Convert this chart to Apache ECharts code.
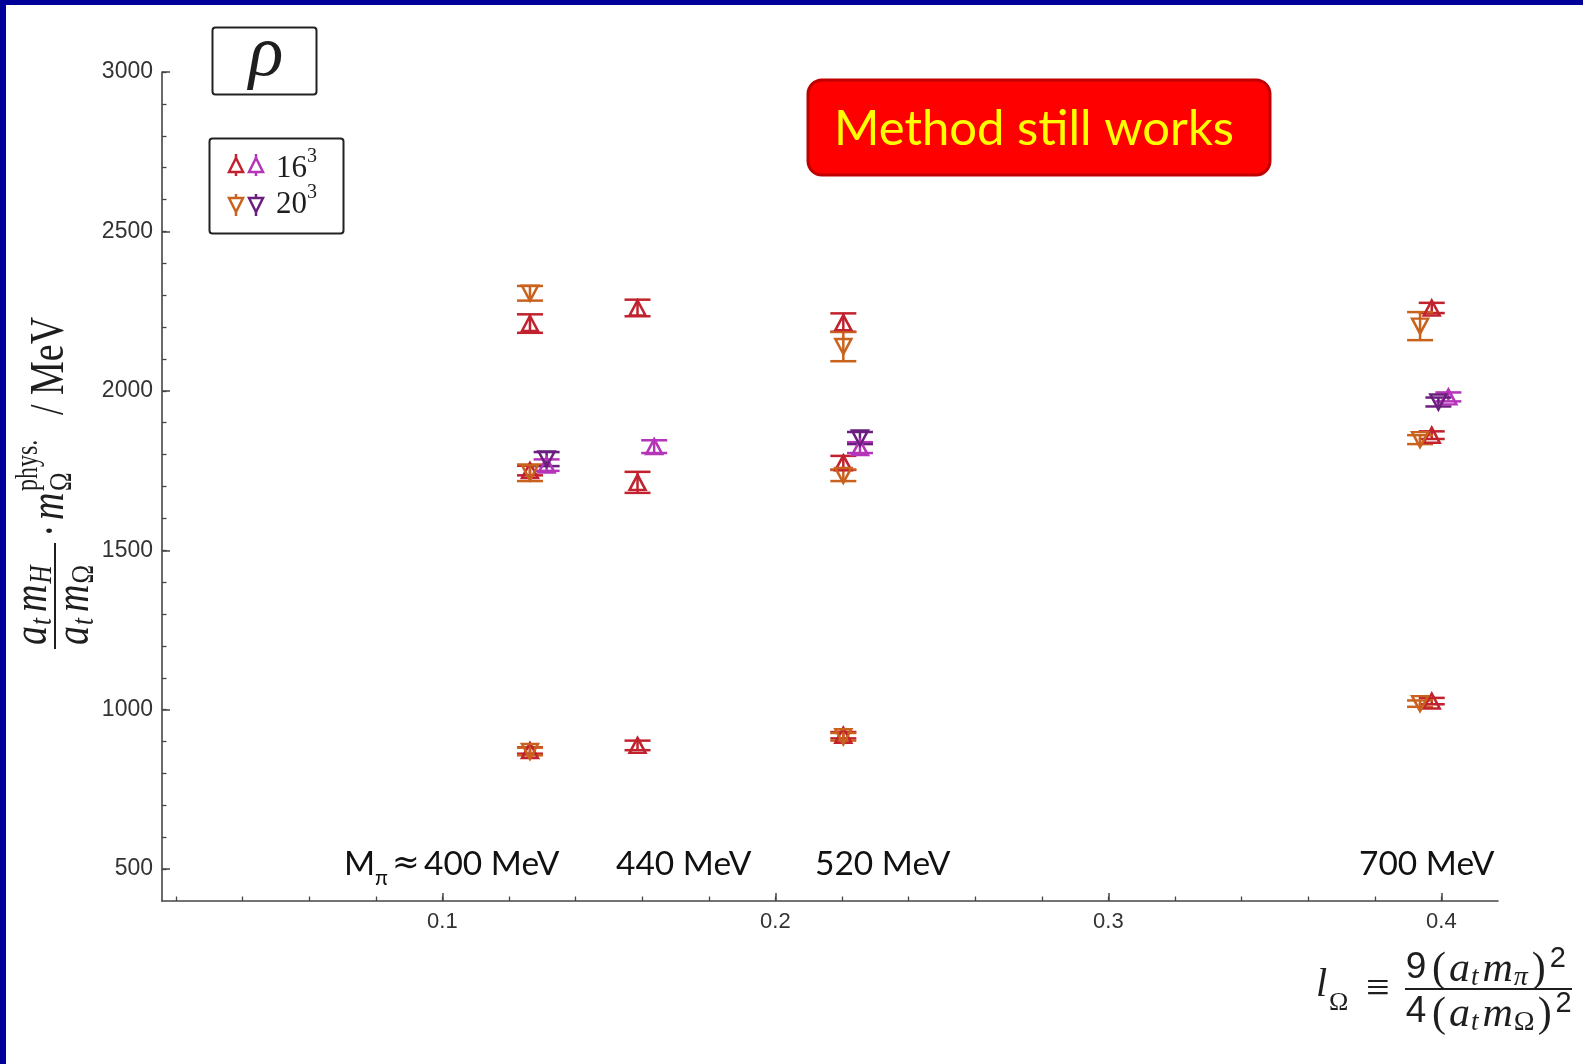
<!DOCTYPE html>
<html>
<head>
<meta charset="utf-8">
<script src="https://cdn.jsdelivr.net/npm/echarts@6/dist/echarts.min.js"></script>
<style>
html,body{margin:0;padding:0;background:#fff;}
#c{width:1583px;height:1064px;}
</style>
</head>
<body>
<div id="c"></div>
<script>
// ---------- data (x = l_Omega, y = mass in MeV, err in MeV) ----------
const rho16a = [ // 16^3, crimson up-triangles
  [0.1263, 2211, 29], [0.1263, 1750, 15], [0.1263, 872, 10],
  [0.1586, 2260, 26], [0.1586, 1713, 33], [0.1586, 888, 15],
  [0.2204, 2214, 29], [0.2204, 1774, 22], [0.2204, 920, 10],
  [0.3971, 2260, 16], [0.3971, 1861, 12], [0.3971, 1027, 10]
];
const rho16b = [ // 16^3, magenta up-triangles
  [0.1313, 1767, 18], [0.1636, 1825, 20], [0.2254, 1822, 17], [0.4021, 1981, 14]
];
const rho20a = [ // 20^3, orange down-triangles
  [0.1263, 2306, 23], [0.1263, 1743, 26], [0.1263, 869, 12],
  [0.2204, 2139, 46], [0.2204, 1735, 18], [0.2204, 915, 12],
  [0.3936, 2203, 44], [0.3936, 1847, 14], [0.3936, 1019, 10]
];
const rho20b = [ // 20^3, purple down-triangles
  [0.1313, 1786, 22], [0.2254, 1852, 19], [0.3991, 1965, 14]
];
const xMajorTicks = [0.1, 0.2, 0.3, 0.4];
const xMinorTicks = [0.02, 0.04, 0.06, 0.08, 0.1, 0.12, 0.14, 0.16, 0.18, 0.2, 0.22, 0.24, 0.26, 0.28, 0.3, 0.32, 0.34, 0.36, 0.38, 0.4];
const yMajorTicks = [500, 1000, 1500, 2000, 2500, 3000];
const yMinorTicks = [500, 600, 700, 800, 900, 1000, 1100, 1200, 1300, 1400, 1500, 1600, 1700, 1800, 1900, 2000, 2100, 2200, 2300, 2400, 2500, 2600, 2700, 2800, 2900, 3000];
const massLabels = ['440 MeV', '520 MeV', '700 MeV'];

const C_RED = '#c1222e', C_MAG = '#b535b8', C_ORA = '#c9621d', C_PUR = '#6a1f7e';

// ---------- helpers ----------
const mctx = document.createElement('canvas').getContext('2d');
function fontStr(tk) {
  return (tk.it ? 'italic ' : '') + tk.fs + 'px ' + (tk.ff || '"Liberation Serif","DejaVu Serif"');
}
function flow(x0, yMid, tokens, color) {
  let x = x0; const out = [];
  tokens.forEach(tk => {
    const font = fontStr(tk);
    mctx.font = font;
    const w = mctx.measureText(tk.t).width;
    x += (tk.pre || 0);
    out.push({type: 'text', x: x, y: yMid + (tk.dy || 0), silent: true,
      style: {text: tk.t, font: font, fill: color || '#1e1e1e', textAlign: 'left', verticalAlign: 'middle'}});
    x += w + (tk.gap || 0);
  });
  return out;
}
function place(x, y, t, fs, opts) {
  opts = opts || {};
  return {type: 'text', x: x, y: y, silent: true,
    style: {text: t, font: fontStr({t: t, fs: fs, it: opts.it, ff: opts.ff}), fill: opts.color || '#1e1e1e',
      textAlign: opts.align || 'left', verticalAlign: 'middle'}};
}
function errSeries(data, color) {
  return {
    type: 'custom', data: data, encode: {x: 0, y: 1}, silent: true,
    renderItem: function (params, api) {
      const x = api.value(0), y = api.value(1), e = api.value(2);
      const t = api.coord([x, y + e]), b = api.coord([x, y - e]);
      const hw = 13, st = {stroke: color, lineWidth: 2.5};
      return {type: 'group', children: [
        {type: 'line', shape: {x1: t[0], y1: t[1], x2: b[0], y2: b[1]}, style: st},
        {type: 'line', shape: {x1: t[0] - hw, y1: t[1], x2: t[0] + hw, y2: t[1]}, style: st},
        {type: 'line', shape: {x1: b[0] - hw, y1: b[1], x2: b[0] + hw, y2: b[1]}, style: st}
      ]};
    }
  };
}
function triSeries(data, color, down) {
  return {
    type: 'scatter', data: data, encode: {x: 0, y: 1}, silent: true,
    symbol: 'triangle', symbolSize: [16, 15], symbolRotate: down ? 180 : 0,
    itemStyle: {color: 'rgba(255,255,255,0)', borderColor: color, borderWidth: 2.5, opacity: 1}
  };
}
function legTri(cx, cy, color, down) {
  const h = 7, w = 7;
  const pts = down ? [[cx - w, cy - h], [cx + w, cy - h], [cx, cy + h]] : [[cx - w, cy + h], [cx + w, cy + h], [cx, cy - h]];
  const st = {stroke: color, lineWidth: 2.5, fill: 'none'};
  return [
    {type: 'polygon', shape: {points: pts}, style: st, silent: true},
    {type: 'line', shape: {x1: cx, y1: cy - h - 4, x2: cx, y2: cy - h}, style: st, silent: true},
    {type: 'line', shape: {x1: cx, y1: cy + h, x2: cx, y2: cy + h + 4}, style: st, silent: true}
  ];
}

// ---------- graphics ----------
const g = [];
// blue slide frame
g.push({type: 'rect', shape: {x: 0, y: 0, width: 1583, height: 5}, style: {fill: '#000099'}, silent: true});
g.push({type: 'rect', shape: {x: 0, y: 0, width: 6, height: 1064}, style: {fill: '#000099'}, silent: true});
// rho box
g.push({type: 'rect', shape: {x: 212.5, y: 27.5, width: 104, height: 67, r: 3}, style: {fill: '#fff', stroke: '#222', lineWidth: 2}, silent: true});
g.push(place(266, 56, 'ρ', 72, {it: true, align: 'center'}));
// legend box
g.push({type: 'rect', shape: {x: 209.5, y: 138.5, width: 134, height: 95, r: 3}, style: {fill: '#fff', stroke: '#222', lineWidth: 2}, silent: true});
legTri(236, 165, C_RED, false).forEach(e => g.push(e));
legTri(256, 165, C_MAG, false).forEach(e => g.push(e));
legTri(236, 205, C_ORA, true).forEach(e => g.push(e));
legTri(256, 205, C_PUR, true).forEach(e => g.push(e));
g.push(place(276, 169, '16', 31));
g.push(place(307, 157, '3', 20));
g.push(place(276, 205, '20', 31));
g.push(place(307, 193, '3', 20));
// red callout
g.push({type: 'rect', shape: {x: 808, y: 80, width: 462, height: 95, r: 14}, style: {fill: '#ff0000', stroke: '#c00000', lineWidth: 3}, silent: true});
g.push({type: 'text', x: 1034, y: 129, silent: true, style: {text: 'Method still works', font: '49px Lato', fill: '#ffff00', textAlign: 'center', verticalAlign: 'middle'}});
// pion mass annotations
const ANN = '33.5px Lato';
g.push({type: 'text', x: 344, y: 864, silent: true, style: {text: 'M', font: ANN, fill: '#111', verticalAlign: 'middle'}});
g.push({type: 'text', x: 375, y: 878, silent: true, style: {text: 'π', font: '21px Lato', fill: '#111', verticalAlign: 'middle'}});
g.push({type: 'text', x: 392, y: 864, silent: true, style: {text: '≈', font: '33px "DejaVu Sans"', fill: '#111', verticalAlign: 'middle'}});
g.push({type: 'text', x: 424, y: 864, silent: true, style: {text: '400 MeV', font: ANN, fill: '#111', verticalAlign: 'middle'}});
[[616, 0], [815, 1], [1359, 2]].forEach(p => {
  g.push({type: 'text', x: p[0], y: 864, silent: true, style: {text: massLabels[p[1]], font: ANN, fill: '#111', verticalAlign: 'middle'}});
});
// x-axis formula  l_Ω ≡ 9/4 (a_t m_π)^2/(a_t m_Ω)^2
g.push(place(1316, 985, 'l', 40, {it: true}));
g.push(place(1329, 1003, 'Ω', 26));
g.push(place(1366, 990, '≡', 42));
g.push(place(1416, 968, '9', 37, {align: 'center', ff: '"Liberation Sans"'}));
g.push(place(1416, 1012, '4', 37, {align: 'center', ff: '"Liberation Sans"'}));
g.push({type: 'line', shape: {x1: 1405, y1: 989, x2: 1572, y2: 989}, style: {stroke: '#1e1e1e', lineWidth: 2}, silent: true});
flow(1432, 970, [
  {t: '(', fs: 42, gap: 3}, {t: 'a', fs: 42, it: 1, gap: 1}, {t: 't', fs: 27, it: 1, dy: 8, gap: 4},
  {t: 'm', fs: 42, it: 1, gap: 1}, {t: 'π', fs: 28, it: 1, dy: 8, gap: 4}, {t: ')', fs: 42, gap: 4},
  {t: '2', fs: 29, ff: '"Liberation Sans"', dy: -11}
]).forEach(e => g.push(e));
flow(1432, 1015, [
  {t: '(', fs: 42, gap: 3}, {t: 'a', fs: 42, it: 1, gap: 1}, {t: 't', fs: 27, it: 1, dy: 8, gap: 4},
  {t: 'm', fs: 42, it: 1, gap: 1}, {t: 'Ω', fs: 28, dy: 8, gap: 3}, {t: ')', fs: 42, gap: 4},
  {t: '2', fs: 29, ff: '"Liberation Sans"', dy: -11}
]).forEach(e => g.push(e));
// y-axis label (rotated group)
const yl = [];
flow(6, -17, [{t: 'a', fs: 38, it: 1, gap: 1}, {t: 't', fs: 25, it: 1, dy: 7, gap: 6}, {t: 'm', fs: 38, it: 1, gap: 1}, {t: 'H', fs: 25, it: 1, dy: 7}]).forEach(e => yl.push(e));
flow(6, 16, [{t: 'a', fs: 38, it: 1, gap: 1}, {t: 't', fs: 25, it: 1, dy: 7, gap: 6}, {t: 'm', fs: 38, it: 1, gap: 1}, {t: 'Ω', fs: 25, dy: 7}]).forEach(e => yl.push(e));
yl.push({type: 'line', shape: {x1: 2, y1: 0, x2: 108, y2: 0}, style: {stroke: '#1e1e1e', lineWidth: 1.6}, silent: true});
yl.push(place(114, -2, '·', 38));
yl.push(place(131, -4, 'm', 38, {it: true}));
yl.push(place(160, -20, 'phys.', 24));
yl.push(place(160, 6, 'Ω', 25));
yl.push(place(236, -4, '/', 38));
yl.push(place(256, -4, 'MeV', 38));
g.push({type: 'group', x: 55, y: 651, rotation: Math.PI / 2, scaleX: 1, scaleY: 1.28, children: yl, silent: true});

// ---------- chart ----------
const chart = echarts.init(document.getElementById('c'), null, {renderer: 'canvas'});
const axisCol = '#454545';
const lblStyle = {fontFamily: '"Liberation Sans", Arial', fontSize: 23, color: '#333'};
chart.setOption({
  animation: false,
  backgroundColor: '#ffffff',
  grid: {left: 162, right: 85, top: 72, bottom: 163, containLabel: false},
  xAxis: [
    {type: 'value', min: 0.0158, max: 0.417, position: 'bottom',
     axisLine: {show: true, onZero: false, lineStyle: {color: axisCol, width: 1.6}},
     axisTick: {show: true, inside: true, length: 8, customValues: xMajorTicks, lineStyle: {color: axisCol, width: 1.5}},
     axisLabel: {show: true, customValues: xMajorTicks, margin: 10, formatter: v => String(+v.toFixed(2)), ...lblStyle, fontSize: 22},
     splitLine: {show: false}},
    {type: 'value', min: 0.0158, max: 0.417, position: 'bottom', offset: 0,
     axisLine: {show: false, onZero: false},
     axisTick: {show: true, inside: true, length: 4.5, customValues: xMinorTicks, lineStyle: {color: axisCol, width: 1.3}},
     axisLabel: {show: false}, splitLine: {show: false}}
  ],
  yAxis: [
    {type: 'value', min: 400, max: 3000, position: 'left',
     axisLine: {show: true, onZero: false, lineStyle: {color: axisCol, width: 1.6}},
     axisTick: {show: true, inside: true, length: 8, customValues: yMajorTicks, lineStyle: {color: axisCol, width: 1.5}},
     axisLabel: {show: true, customValues: yMajorTicks, margin: 9, padding: [5, 0, 0, 0], formatter: v => String(Math.round(v)), ...lblStyle},
     splitLine: {show: false}},
    {type: 'value', min: 400, max: 3000, position: 'left', offset: 0,
     axisLine: {show: false, onZero: false},
     axisTick: {show: true, inside: true, length: 4.5, customValues: yMinorTicks, lineStyle: {color: axisCol, width: 1.3}},
     axisLabel: {show: false}, splitLine: {show: false}}
  ],
  series: [
    errSeries(rho16a, C_RED), triSeries(rho16a, C_RED, false),
    errSeries(rho16b, C_MAG), triSeries(rho16b, C_MAG, false),
    errSeries(rho20a, C_ORA), triSeries(rho20a, C_ORA, true),
    errSeries(rho20b, C_PUR), triSeries(rho20b, C_PUR, true)
  ],
  graphic: {elements: g}
});
</script>
</body>
</html>
